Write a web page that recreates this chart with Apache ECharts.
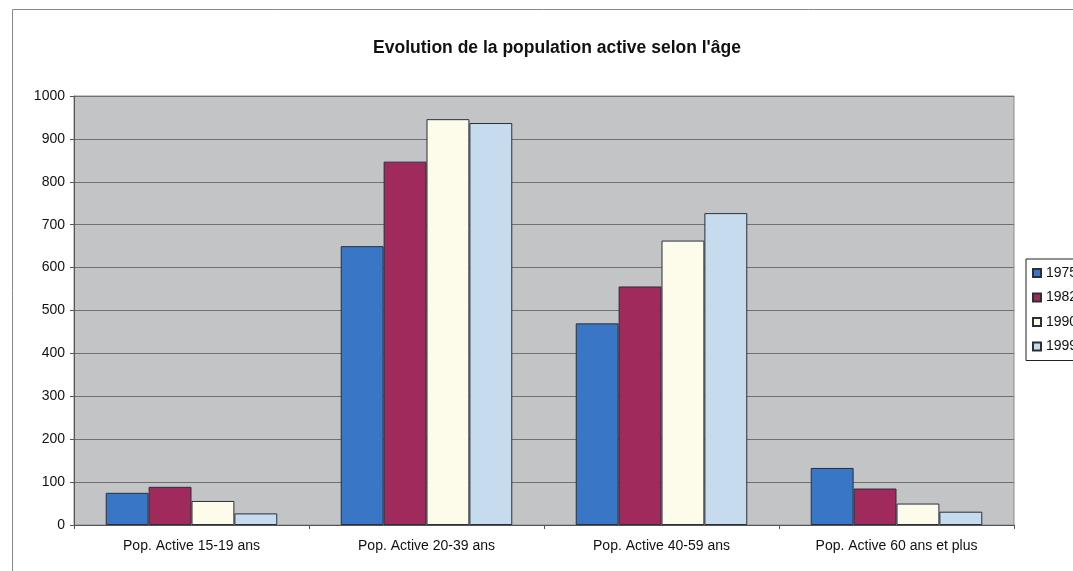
<!DOCTYPE html>
<html>
<head>
<meta charset="utf-8">
<script src="https://cdn.jsdelivr.net/npm/echarts@6/dist/echarts.min.js"></script>
<style>
  html, body { margin: 0; padding: 0; background: #ffffff; }
  #chart { width: 1073px; height: 571px; }
</style>
</head>
<body>
<div id="chart"></div>
<script>
// Age groups on the category axis
const categories = [
  'Pop. Active 15-19 ans',
  'Pop. Active 20-39 ans',
  'Pop. Active 40-59 ans',
  'Pop. Active 60 ans et plus'
];

// Active population per census year
const years = ['1975', '1982', '1990', '1999'];
const values1975 = [75, 650, 470, 133];
const values1982 = [89, 847, 556, 85];
const values1990 = [56, 946, 663, 50];
const values1999 = [27, 937, 727, 31];

const yTicks = { min: 0, max: 1000, interval: 100 };

const fills = ['#3a76c6', '#a02a5c', '#fdfbea', '#c6dbee'];
const seriesValues = [values1975, values1982, values1990, values1999];

const chart = echarts.init(document.getElementById('chart'), null, { renderer: 'canvas' });

chart.setOption({
  animation: false,
  backgroundColor: '#ffffff',
  textStyle: { fontFamily: 'Liberation Sans, Arial, sans-serif' },
  title: {
    text: "Evolution de la population active selon l'âge",
    left: 552,
    top: 34,
    textAlign: 'center',
    textStyle: { fontSize: 17.5, fontWeight: 'bold', color: '#111' }
  },
  graphic: [{
    type: 'rect',
    shape: { x: 12.5, y: 9.5, width: 1100, height: 600 },
    style: { fill: 'none', stroke: '#8a8a8a', lineWidth: 1 },
    silent: true
  }],
  legend: {
    orient: 'vertical',
    left: 1026,
    top: 259,
    itemWidth: 8,
    itemHeight: 8,
    itemGap: 10.5,
    padding: [7, 20, 7, 6],
    borderColor: '#222',
    borderWidth: 1,
    backgroundColor: '#ffffff',
    icon: 'rect',
    textStyle: { fontSize: 14, color: '#111' },
    data: years
  },
  grid: {
    left: 74,
    right: 59,
    top: 96,
    bottom: 46,
    show: true,
    backgroundColor: '#c3c4c6',
    borderColor: '#8c8c8c',
    borderWidth: 1
  },
  xAxis: {
    type: 'category',
    data: categories,
    axisLine: { lineStyle: { color: '#555', width: 1 } },
    axisTick: { show: true, length: 4, lineStyle: { color: '#555' } },
    axisLabel: { fontSize: 14, color: '#111', margin: 14 }
  },
  yAxis: {
    type: 'value',
    min: yTicks.min,
    max: yTicks.max,
    interval: yTicks.interval,
    axisLine: { show: true, lineStyle: { color: '#555', width: 1 } },
    axisTick: { show: true, length: 4, lineStyle: { color: '#555' } },
    axisLabel: { fontSize: 14, color: '#111', margin: 9, formatter: v => String(v) },
    splitLine: { show: true, lineStyle: { color: '#6e7072', width: 1 } }
  },
  series: years.map((y, i) => ({
    name: y,
    type: 'bar',
    data: seriesValues[i],
    barGap: '0%',
    barCategoryGap: '27%',
    itemStyle: { color: fills[i], borderColor: '#2a2f3a', borderWidth: 1 }
  }))
});
</script>
</body>
</html>
